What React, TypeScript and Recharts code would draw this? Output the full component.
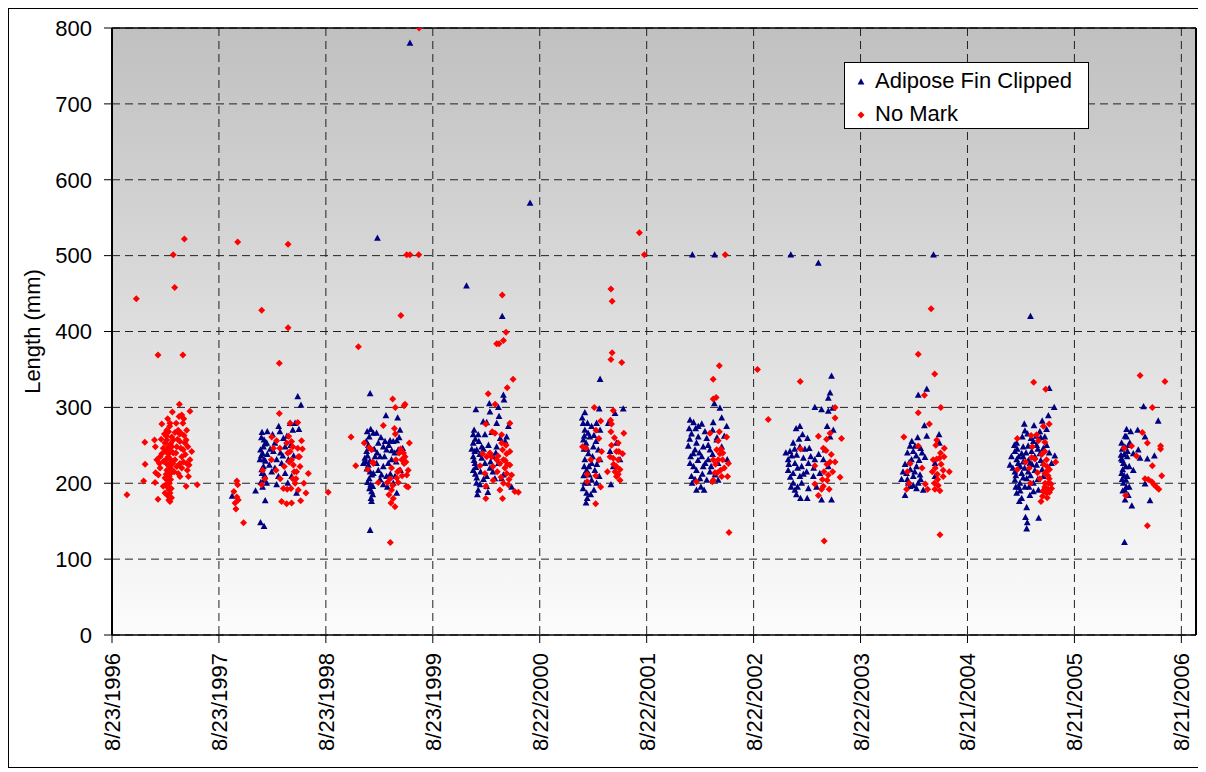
import { ScatterChart, Scatter, XAxis, YAxis, CartesianGrid, Legend, ReferenceLine } from "recharts";

// x = days after 8/23/1996, y = fork length (mm)
const BASE = Date.UTC(1996, 7, 23);
const dateTicks = [0, 365, 730, 1095, 1460, 1825, 2190, 2555, 2920, 3285, 3650];
const lengthTicks = [0, 100, 200, 300, 400, 500, 600, 700, 800];

const noMark1996 = [
  [247, 522], [209, 501], [214, 458], [83, 443], [157, 369], [242, 369], [230, 304], [206, 294], [266, 295], [51, 185], [291, 198], [157, 179],
  [112, 254], [145, 257], [148, 248], [113, 225], [108, 203], [147, 201], [149, 214], [170, 278], [198, 279], [179, 265], [193, 268], [215, 267],
  [231, 265], [229, 288], [238, 290], [242, 279], [245, 285], [153, 231], [162, 226], [164, 220], [175, 246], [181, 253], [187, 257], [189, 244],
  [192, 235], [196, 226], [193, 217], [195, 209], [196, 200], [195, 191], [196, 182], [184, 231], [187, 217], [181, 207], [189, 195], [204, 248],
  [209, 240], [215, 231], [221, 222], [226, 213], [232, 226], [238, 235], [243, 244], [249, 253], [253, 257], [255, 226], [257, 217], [261, 209],
  [253, 196], [272, 242], [266, 231], [232, 209], [209, 257], [221, 248], [238, 220], [175, 196], [181, 187], [198, 176], [187, 270], [204, 261],
  [232, 255], [164, 235], [158, 211], [255, 270], [226, 270], [192, 248], [198, 222], [200, 213], [189, 204], [198, 187], [193, 239], [201, 231],
  [190, 285], [197, 275], [186, 262], [200, 252], [184, 242], [199, 243], [188, 225], [202, 219], [185, 212], [200, 205], [187, 199], [202, 193],
  [190, 184], [203, 181], [194, 178], [207, 226], [212, 215], [218, 240], [224, 258], [235, 246], [244, 228], [250, 238], [259, 248], [263, 224],
  [170, 239], [176, 229], [168, 258], [246, 263], [219, 279], [236, 266],
];

const clipped1997 = [
  [410, 183], [490, 190], [523, 177], [507, 148], [519, 143], [634, 314], [645, 303],
  [512, 267], [519, 257], [517, 248], [514, 239], [519, 231], [517, 222], [512, 213], [519, 204], [514, 195], [528, 200], [548, 264], [556, 253],
  [551, 242], [562, 231], [556, 220], [568, 209], [562, 198], [569, 275], [585, 259], [591, 248], [579, 226], [591, 213], [608, 279], [617, 270],
  [625, 279], [638, 271], [600, 200], [630, 187], [613, 209], [602, 231], [537, 224], [528, 253], [505, 231], [507, 244],
  [510, 260], [522, 252], [509, 236], [524, 229], [511, 218], [521, 210], [508, 201], [530, 238], [540, 245], [545, 215], [575, 240], [583, 236],
  [597, 262], [610, 250], [620, 236], [573, 268], [530, 268],
];

const noMark1997 = [
  [426, 203], [429, 198], [416, 189], [426, 182], [420, 174], [423, 166], [431, 178], [449, 148],
  [429, 518], [601, 515], [511, 428], [601, 405], [571, 358], [571, 292],
  [545, 261], [562, 256], [573, 246], [596, 253], [613, 255], [608, 242], [617, 248], [634, 246], [647, 256], [636, 235], [613, 231], [619, 224],
  [642, 222], [630, 215], [617, 206], [625, 200], [611, 193], [636, 191], [662, 187], [670, 213], [644, 177], [613, 174], [596, 173], [579, 176],
  [608, 279], [634, 280], [544, 231], [560, 217], [574, 206], [514, 217], [511, 198], [522, 206], [585, 193], [551, 246],
  [600, 240], [605, 228], [622, 215], [640, 235], [628, 206], [650, 245], [603, 262], [588, 222], [655, 200], [598, 192],
];

const clipped1998 = [
  [906, 523], [1017, 780], [881, 318], [881, 138],
  [883, 271], [878, 261], [875, 250], [869, 242], [863, 233], [875, 224], [881, 215], [878, 206], [883, 198], [886, 189], [884, 180], [886, 176],
  [892, 266], [903, 266], [909, 253], [926, 248], [932, 255], [937, 244], [949, 256], [960, 255], [972, 256], [977, 244], [983, 270], [935, 289],
  [975, 286], [915, 235], [903, 226], [926, 222], [943, 226], [954, 231], [920, 211], [937, 209], [966, 209], [926, 198], [909, 217], [960, 200],
  [972, 187], [892, 213], [898, 235], [858, 226], [992, 246], [985, 217],
  [871, 268], [868, 255], [880, 246], [872, 236], [866, 228], [880, 229], [870, 219], [887, 211], [872, 201], [879, 193], [890, 196], [895, 245],
  [905, 240], [918, 260], [930, 235], [945, 250], [955, 243], [965, 240], [950, 212], [915, 205], [940, 195], [970, 228], [980, 260], [890, 185],
];

const noMark1998 = [
  [738, 188], [1006, 501], [1017, 501], [1047, 501], [986, 421], [841, 380], [950, 122], [1048, 800],
  [958, 311], [967, 300], [997, 302], [1000, 304], [926, 276], [964, 272], [967, 265], [816, 261], [832, 223], [861, 253], [878, 247], [886, 244],
  [890, 228], [873, 218], [1015, 253], [980, 240], [989, 231], [1000, 235], [969, 231], [997, 226], [1011, 217], [981, 217], [1006, 211], [954, 220],
  [949, 206], [909, 201], [940, 201], [977, 201], [1011, 195], [954, 191], [960, 180], [952, 174], [966, 169], [892, 226],
  [985, 245], [995, 240], [1003, 228], [975, 215], [990, 210], [958, 197], [1005, 196], [945, 185], [972, 207],
];

const clipped1999 = [
  [1210, 460], [1332, 420], [1427, 569],
  [1336, 316], [1338, 310], [1288, 305], [1319, 300], [1242, 297], [1267, 281], [1279, 280], [1290, 294], [1321, 288], [1313, 279], [1233, 264],
  [1250, 264], [1273, 264], [1296, 267], [1325, 259], [1347, 261], [1353, 275], [1233, 253], [1245, 244], [1233, 235], [1239, 226], [1233, 217],
  [1245, 207], [1250, 191], [1247, 185], [1256, 198], [1279, 196], [1273, 226], [1290, 220], [1301, 235], [1313, 248], [1319, 226], [1336, 211],
  [1364, 195], [1262, 248], [1262, 233], [1279, 209], [1307, 206], [1330, 206],
  [1236, 270], [1240, 258], [1238, 242], [1236, 230], [1242, 221], [1240, 212], [1252, 255], [1255, 238], [1268, 245], [1285, 250], [1258, 215],
  [1268, 205], [1292, 228], [1300, 215], [1310, 240], [1244, 200], [1283, 188], [1342, 255], [1228, 245],
];

const noMark1999 = [
  [1332, 448], [1345, 399], [1336, 388], [1313, 384], [1321, 384], [1369, 337], [1349, 326], [1284, 318], [1308, 304],
  [1276, 278], [1298, 268], [1307, 266], [1330, 264], [1358, 279], [1265, 239], [1279, 235], [1295, 235], [1313, 231], [1333, 244], [1347, 239],
  [1358, 242], [1336, 231], [1324, 226], [1341, 220], [1358, 224], [1364, 211], [1347, 213], [1336, 200], [1353, 198], [1375, 189], [1387, 188],
  [1324, 191], [1301, 204], [1276, 196], [1276, 180], [1333, 180], [1256, 223], [1273, 213], [1315, 215], [1330, 253],
  [1290, 240], [1318, 236], [1342, 230], [1350, 225], [1355, 205], [1328, 208], [1300, 222], [1345, 250],
];

const clipped2000 = [
  [1666, 337],
  [1614, 293], [1605, 286], [1663, 298], [1745, 298], [1717, 292], [1623, 279], [1637, 275], [1614, 270], [1666, 270], [1631, 261], [1618, 253],
  [1643, 248], [1626, 239], [1660, 244], [1614, 231], [1637, 226], [1666, 231], [1620, 217], [1648, 217], [1663, 209], [1614, 200], [1637, 204],
  [1645, 191], [1620, 187], [1622, 180], [1618, 174], [1700, 242], [1711, 222], [1734, 231], [1703, 198], [1654, 279], [1609, 257], [1629, 211],
  [1654, 200], [1694, 279], [1722, 253],
  [1608, 279], [1612, 262], [1625, 266], [1611, 245], [1622, 245], [1612, 222], [1628, 222], [1610, 210], [1626, 200], [1608, 193], [1640, 235],
  [1652, 255], [1634, 185], [1655, 225], [1645, 263],
];

const noMark2000 = [
  [1800, 530], [1817, 501], [1703, 456], [1707, 440], [1707, 372], [1703, 363], [1740, 359],
  [1646, 300], [1668, 282], [1711, 296], [1702, 283], [1705, 278], [1703, 268], [1747, 266], [1662, 259], [1728, 253], [1606, 248], [1618, 246],
  [1671, 242], [1722, 242], [1743, 239], [1711, 233], [1728, 231], [1634, 231], [1662, 231], [1722, 222], [1734, 218], [1717, 215], [1691, 215],
  [1622, 212], [1651, 210], [1722, 209], [1734, 204], [1622, 202], [1668, 195], [1651, 173], [1652, 270],
  [1705, 250], [1715, 260], [1730, 242], [1712, 225], [1728, 212], [1700, 235],
];

const clipped2001 = [
  [1981, 501], [2057, 501],
  [1973, 283], [2013, 278], [2075, 299], [2056, 305], [2052, 280], [2081, 286], [2098, 275], [1992, 272], [2024, 268], [2050, 270], [1978, 265],
  [2001, 261], [2030, 259], [2064, 257], [1967, 249], [1995, 253], [2018, 248], [2041, 244], [1984, 239], [2013, 235], [2035, 231], [2069, 226],
  [2100, 231], [1973, 226], [1995, 217], [2018, 222], [2041, 215], [1978, 209], [2007, 206], [2030, 204], [2069, 204], [1995, 191], [2021, 191],
  [2058, 211], [2081, 248], [2001, 275],
  [1970, 272], [1985, 280], [1972, 258], [1990, 244], [1975, 235], [2005, 240], [1985, 222], [2025, 226], [1990, 205], [2010, 195], [2045, 222],
  [2050, 238], [2000, 230], [2015, 212], [2065, 260], [2090, 262], [1980, 200], [2035, 250],
];

const noMark2001 = [
  [2093, 501], [2073, 355], [2052, 337], [2062, 313], [2052, 311], [2106, 135],
  [2073, 268], [2069, 256], [2098, 261], [2064, 244], [2075, 239], [2052, 231], [2069, 231], [2084, 231], [2104, 226], [2077, 217], [2058, 214],
  [2081, 209], [2101, 209], [2052, 204], [2049, 202], [1995, 202], [2041, 266],
  [2060, 225], [2078, 245], [2090, 220], [2066, 214], [2085, 240],
];

const clipped2002 = [
  [2317, 501], [2411, 490], [2456, 341],
  [2451, 319], [2445, 312], [2399, 300], [2422, 297], [2445, 295], [2460, 299], [2335, 272], [2348, 275], [2357, 264], [2374, 259], [2325, 253],
  [2348, 248], [2380, 246], [2314, 242], [2337, 237], [2360, 233], [2308, 231], [2331, 226], [2354, 222], [2377, 226], [2399, 231], [2428, 231],
  [2308, 217], [2325, 213], [2348, 209], [2371, 215], [2394, 209], [2416, 213], [2445, 222], [2325, 200], [2354, 200], [2377, 193], [2405, 195],
  [2331, 191], [2350, 180], [2373, 180], [2422, 178], [2456, 178], [2441, 275], [2451, 261], [2434, 244], [2462, 270],
  [2310, 225], [2320, 236], [2330, 245], [2340, 220], [2315, 208], [2340, 195], [2360, 212], [2385, 235], [2395, 220], [2318, 195], [2345, 258],
  [2365, 245], [2412, 238], [2300, 240], [2336, 185],
];

const noMark2002 = [
  [2203, 350], [2240, 284], [2349, 334], [2431, 124],
  [2468, 300], [2468, 286], [2451, 266], [2439, 258], [2411, 262], [2490, 259], [2428, 246], [2350, 245], [2437, 243], [2451, 228], [2468, 228],
  [2399, 223], [2445, 211], [2485, 208], [2441, 204], [2399, 199], [2428, 196], [2448, 192], [2411, 184], [2422, 192],
  [2440, 225], [2455, 238], [2430, 215], [2460, 215], [2425, 205],
];

const clipped2003 = [
  [2804, 501], [2781, 324], [2752, 316],
  [2773, 276], [2781, 262], [2823, 264], [2724, 249], [2741, 249], [2760, 246], [2735, 242], [2775, 234], [2707, 225], [2721, 227], [2746, 222],
  [2695, 205], [2712, 213], [2735, 209], [2758, 211], [2724, 196], [2746, 193], [2769, 191], [2707, 184], [2809, 209], [2824, 253], [2729, 231],
  [2752, 200], [2718, 200], [2809, 226],
  [2715, 240], [2730, 255], [2745, 236], [2725, 218], [2740, 215], [2755, 230], [2700, 215], [2715, 205], [2735, 197], [2760, 205], [2750, 260],
  [2765, 240],
];

const noMark2003 = [
  [2796, 430], [2752, 370], [2808, 344], [2773, 316], [2829, 300], [2752, 293], [2826, 132],
  [2703, 261], [2790, 278], [2752, 249], [2815, 257], [2812, 250], [2841, 246], [2828, 240], [2803, 231], [2815, 232], [2824, 233], [2765, 220],
  [2837, 217], [2858, 215], [2817, 212], [2837, 209], [2724, 226], [2715, 215], [2721, 200], [2712, 192], [2776, 199], [2784, 192], [2807, 200],
  [2820, 197], [2826, 190], [2809, 192],
  [2810, 220], [2830, 225], [2800, 215], [2840, 235], [2818, 205],
];

const clipped2004 = [
  [3135, 420], [3199, 325], [3216, 300],
  [3196, 289], [3175, 282], [3114, 278], [3147, 276], [3190, 271], [3116, 269], [3167, 268], [3107, 261], [3137, 259], [3184, 261], [3088, 253],
  [3110, 248], [3127, 249], [3156, 250], [3179, 246], [3082, 242], [3105, 239], [3139, 242], [3167, 239], [3199, 240], [3065, 224], [3088, 231],
  [3110, 228], [3133, 226], [3156, 224], [3179, 226], [3218, 236], [3082, 215], [3105, 213], [3127, 215], [3150, 217], [3082, 204], [3099, 200],
  [3122, 206], [3145, 200], [3179, 209], [3088, 187], [3105, 180], [3097, 176], [3145, 189], [3162, 191], [3122, 168], [3118, 155], [3124, 148],
  [3122, 140], [3163, 154], [3093, 226], [3116, 195], [3133, 184], [3207, 226],
  [3070, 235], [3075, 220], [3080, 250], [3090, 245], [3095, 235], [3100, 222], [3085, 210], [3095, 195], [3110, 235], [3115, 220], [3120, 240],
  [3128, 230], [3135, 210], [3140, 225], [3150, 235], [3160, 245], [3170, 230], [3175, 218], [3160, 205], [3145, 255], [3125, 265], [3155, 262],
  [3110, 207], [3100, 190], [3085, 195], [3170, 260], [3190, 250], [3130, 195],
];

const noMark2004 = [
  [3146, 333], [3187, 324],
  [3090, 259], [3137, 263], [3156, 264], [3179, 275], [3199, 278], [3162, 256], [3141, 248], [3184, 254], [3184, 242], [3221, 228], [3139, 234],
  [3090, 218], [3131, 220], [3190, 231], [3192, 222], [3159, 214], [3184, 213], [3199, 206], [3167, 206], [3196, 200], [3205, 199], [3135, 200],
  [3184, 195], [3196, 192], [3190, 187], [3176, 183], [3192, 181], [3171, 176], [3207, 193], [3181, 189],
  [3180, 225], [3188, 215], [3195, 210], [3200, 218], [3185, 200], [3178, 190], [3200, 188], [3173, 238], [3150, 232], [3118, 228],
];

const clipped2005 = [
  [3521, 301], [3571, 282], [3456, 122],
  [3463, 271], [3477, 268], [3501, 270], [3526, 261], [3446, 253], [3457, 248], [3474, 253], [3503, 244], [3444, 237], [3465, 235], [3486, 239],
  [3509, 233], [3534, 232], [3558, 236], [3452, 226], [3472, 222], [3446, 213], [3465, 209], [3452, 200], [3472, 195], [3457, 191], [3469, 184],
  [3481, 170], [3543, 177], [3526, 199], [3486, 217], [3463, 261], [3449, 230], [3461, 204],
  [3448, 245], [3455, 238], [3450, 218], [3460, 222], [3455, 210], [3448, 205], [3462, 195], [3450, 190], [3458, 178], [3466, 242], [3470, 250],
  [3445, 232], [3458, 262],
];

const noMark2005 = [
  [3509, 342], [3594, 334], [3551, 300], [3534, 144],
  [3517, 267], [3534, 253], [3480, 249], [3455, 246], [3497, 236], [3579, 249], [3579, 245], [3551, 223], [3583, 210], [3526, 206], [3537, 205],
  [3549, 202], [3557, 198], [3565, 195], [3573, 192], [3460, 184],
];

const toPoints = (rows: number[][]) => rows.map(([d, mm]) => ({ d, mm }));

const clipped = toPoints([
  ...clipped1997, ...clipped1998, ...clipped1999, ...clipped2000, ...clipped2001,
  ...clipped2002, ...clipped2003, ...clipped2004, ...clipped2005,
]);
const noMark = toPoints([
  ...noMark1996, ...noMark1997, ...noMark1998, ...noMark1999, ...noMark2000,
  ...noMark2001, ...noMark2002, ...noMark2003, ...noMark2004, ...noMark2005,
]);

const FONT = "'Liberation Sans', Arial, sans-serif";

function fmtDate(d: number) {
  const dt = new Date(BASE + d * 86400000);
  return `${dt.getUTCMonth() + 1}/${dt.getUTCDate()}/${dt.getUTCFullYear()}`;
}

const Triangle = (p: any) => (
  <polygon
    points={`${p.cx},${p.cy - 3.7} ${p.cx - 3.4},${p.cy + 2.6} ${p.cx + 3.4},${p.cy + 2.6}`}
    fill="#000080"
  />
);

const Diamond = (p: any) => (
  <polygon
    points={`${p.cx},${p.cy - 3.5} ${p.cx + 3.5},${p.cy} ${p.cx},${p.cy + 3.5} ${p.cx - 3.5},${p.cy}`}
    fill="#ff0000"
  />
);

const DateTick = ({ x, y, payload }: any) => (
  <text
    x={x + 8}
    y={y + 10}
    transform={`rotate(-90 ${x + 8} ${y + 10})`}
    textAnchor="end"
    fontSize={22}
    fontFamily={FONT}
    fill="#000"
  >
    {fmtDate(payload.value)}
  </text>
);

const legendRows = [
  { label: "Adipose Fin Clipped", Marker: Triangle },
  { label: "No Mark", Marker: Diamond },
];

const renderLegend = () => (
  <div
    style={{
      width: 243,
      height: 65,
      background: "#fff",
      border: "1px solid #000",
      fontFamily: FONT,
      fontSize: 22,
      color: "#000",
      position: "relative",
    }}
  >
    {legendRows.map((r, i) => (
      <div key={r.label} style={{ position: "absolute", left: 0, top: 4 + i * 33, height: 28, display: "flex", alignItems: "center" }}>
        <svg width={30} height={28}>
          <r.Marker cx={16} cy={15} />
        </svg>
        <span>{r.label}</span>
      </div>
    ))}
  </div>
);

const YLabel = ({ viewBox }: any) => {
  const x = viewBox.x + 31;
  const y = viewBox.y + viewBox.height / 2;
  return (
    <text x={x} y={y} transform={`rotate(-90 ${x} ${y})`} textAnchor="middle" fontSize={22} fontFamily={FONT} fill="#000">
      Length (mm)
    </text>
  );
};

export default function App() {
  return (
    <div style={{ width: 1194, height: 758, border: "1px solid #000", background: "#fff" }}>
      <ScatterChart width={1194} height={758} margin={{ top: 19, right: 7, bottom: 0, left: 0 }}>
        <defs>
          <linearGradient id="plotBg" x1="0" y1="0" x2="0" y2="1">
            <stop offset="0%" stopColor="#c0c0c0" />
            <stop offset="100%" stopColor="#fcfcfc" />
          </linearGradient>
        </defs>
        <CartesianGrid fill="url(#plotBg)" fillOpacity={1} stroke="#222" strokeDasharray="8 5" />
        <XAxis
          type="number"
          dataKey="d"
          domain={[0, 3700]}
          ticks={dateTicks}
          interval={0}
          height={132}
          tickSize={8}
          tickMargin={0}
          tick={<DateTick />}
          axisLine={{ stroke: "#000", strokeWidth: 1.5 }}
          tickLine={{ stroke: "#000" }}
          allowDataOverflow
        />
        <YAxis
          type="number"
          dataKey="mm"
          domain={[0, 800]}
          ticks={lengthTicks}
          interval={0}
          width={103}
          tickSize={8}
          tickMargin={12}
          tick={{ fontSize: 22, fontFamily: FONT, fill: "#000" }}
          axisLine={{ stroke: "#000", strokeWidth: 2 }}
          tickLine={{ stroke: "#000" }}
          label={{ content: YLabel }}
          allowDataOverflow
        />
        <ReferenceLine y={800} stroke="#000" strokeWidth={1.5} />
        <ReferenceLine x={3700} stroke="#000" strokeWidth={2} />
        <Scatter name="Adipose Fin Clipped" data={clipped} shape={Triangle} isAnimationActive={false} />
        <Scatter name="No Mark" data={noMark} shape={Diamond} isAnimationActive={false} />
        <Legend
          layout="vertical"
          align="center"
          verticalAlign="middle"
          content={renderLegend}
          wrapperStyle={{ left: 835, top: 53, width: 245, height: 67 }}
        />
      </ScatterChart>
    </div>
  );
}
